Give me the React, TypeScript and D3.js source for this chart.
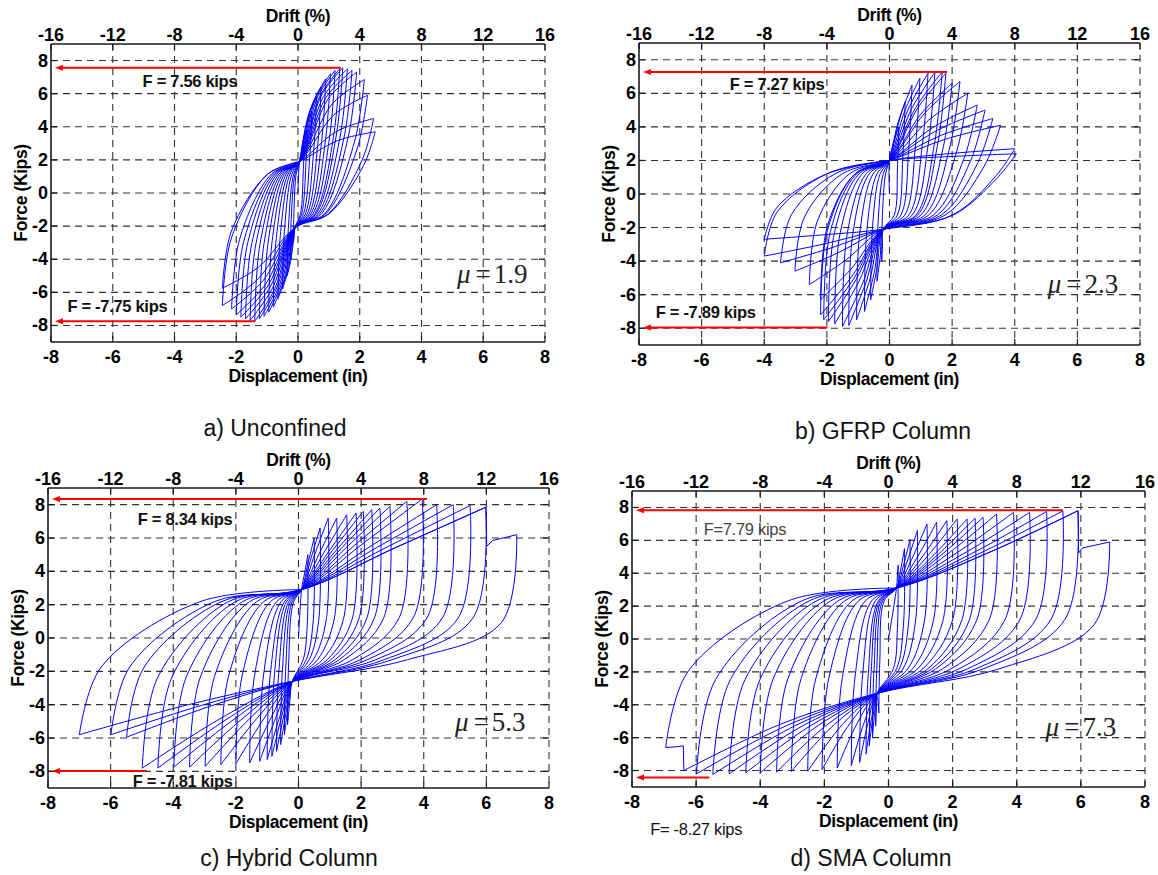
import React from "react";
import * as d3 from "d3";

type Pt = [number, number];

// axis ticks
const dispTicks = [-8, -6, -4, -2, 0, 2, 4, 6, 8];
const driftTicks = [-16, -12, -8, -4, 0, 4, 8, 12, 16];
const forceTicks = [-8, -6, -4, -2, 0, 2, 4, 6, 8];

// cycle peaks: displacement (in), force (kips)
// a) Unconfined
const uncPosDisp = [0.2, 0.3, 0.45, 0.6, 0.75, 0.9, 1.05, 1.2, 1.35, 1.45, 1.6, 1.75, 1.9, 2.15, 2.25, 2.45, 2.5];
const uncPosForce = [2.8, 3.8, 4.9, 5.8, 6.4, 6.9, 7.2, 7.4, 7.5, 7.56, 7.5, 7.4, 7.3, 6.85, 5.9, 4.5, 3.7];
const uncNegDisp = [-0.15, -0.25, -0.35, -0.5, -0.65, -0.8, -0.95, -1.1, -1.25, -1.4, -1.55, -1.7, -1.85, -2.0, -2.15, -2.45, -2.45];
const uncNegForce = [-3.0, -4.0, -5.0, -5.8, -6.4, -6.9, -7.2, -7.45, -7.6, -7.75, -7.7, -7.6, -7.5, -7.35, -7.0, -6.8, -5.75];

// b) GFRP column
const gfrpPosDisp = [0.3, 0.5, 0.72, 0.97, 1.23, 1.45, 1.68, 1.8, 2.0, 2.25, 2.5, 2.8, 3.05, 3.3, 3.55, 4.0, 4.05];
const gfrpPosForce = [4.0, 5.5, 6.5, 6.9, 7.2, 7.25, 7.27, 7.2, 6.6, 6.7, 6.0, 5.3, 5.0, 4.5, 4.1, 2.7, 2.4];
const gfrpNegDisp = [-0.25, -0.4, -0.6, -0.8, -1.05, -1.3, -1.5, -1.75, -1.95, -2.1, -2.2, -2.2, -2.56, -3.02, -3.48, -4.0, -4.0];
const gfrpNegForce = [-4.0, -5.2, -6.3, -7.0, -7.5, -7.84, -7.89, -7.74, -7.6, -7.5, -7.2, -6.3, -5.4, -4.6, -4.1, -3.7, -2.7];

// c) Hybrid column
const hybPosDisp = [0.3, 0.5, 0.69, 0.95, 1.22, 1.54, 1.84, 2.07, 2.34, 2.6, 2.92, 3.46, 3.95, 4.41, 4.94, 5.48, 5.98, 6.97];
const hybPosForce = [5.0, 6.0, 6.6, 7.2, 7.2, 7.4, 7.5, 7.6, 7.7, 7.8, 7.9, 8.2, 8.34, 8.0, 8.0, 7.95, 7.85, 6.2];
const hybNegDisp = [-0.35, -0.45, -0.57, -0.7, -0.85, -1.0, -1.24, -1.56, -2.0, -2.48, -2.98, -3.48, -3.98, -4.49, -4.99, -5.49, -5.99, -7.0];
const hybNegForce = [-5.2, -5.8, -6.4, -6.8, -7.1, -7.3, -7.4, -7.5, -7.55, -7.6, -7.7, -7.75, -7.75, -7.8, -7.81, -5.95, -5.8, -5.8];
const hybBreakPos: Pt[] = [[5.99, 7.85], [6.01, 5.5], [6.2, 5.85]];

// d) SMA column
const smaPosDisp = [0.3, 0.5, 0.67, 0.9, 1.2, 1.5, 1.82, 2.14, 2.45, 2.7, 2.95, 3.37, 3.9, 4.4, 4.93, 5.44, 5.91, 6.9];
const smaPosForce = [4.5, 5.5, 6.05, 6.6, 7.0, 7.1, 7.2, 7.3, 7.3, 7.35, 7.4, 7.6, 7.7, 7.7, 7.75, 7.79, 7.8, 5.9];
const smaNegDisp = [-0.3, -0.4, -0.5, -0.6, -0.7, -0.9, -1.16, -1.6, -2.07, -2.52, -3.03, -3.49, -4.0, -4.45, -4.97, -5.48, -5.99, -6.95];
const smaNegForce = [-4.5, -5.3, -6.0, -6.5, -7.0, -7.5, -7.7, -7.85, -7.94, -8.04, -8.05, -8.1, -8.14, -8.14, -8.2, -8.24, -8.2, -6.6];
const smaBreakPos: Pt[] = [[5.91, 7.8], [5.93, 5.23], [6.04, 5.53]];
const smaBreakNeg: Pt[] = [[-6.38, -8.0], [-6.4, -6.5], [-6.6, -6.55]];

// labelled peak forces and arrow ends
const peakLabels = ["F = 7.56 kips", "F = 7.27 kips", "F = 8.34 kips", "F=7.79 kips"];
const peakArrowForce = [7.56, 7.27, 8.34, 7.83];
const peakArrowDisp = [1.39, 1.84, 4.1, 5.44];
const troughLabels = ["F = -7.75 kips", "F = -7.89 kips", "F = -7.81 kips", "F= -8.27 kips"];
const troughArrowForce = [-7.75, -7.95, -7.98, -8.42];
const troughArrowDisp = [-1.39, -1.98, -4.84, -5.59];
const ductility = ["1.9", "2.3", "5.3", "7.3"];
const captions = ["a) Unconfined", "b) GFRP Column", "c) Hybrid Column", "d) SMA Column"];

type Shape = {
  xu: number; pu: number; xl: number; pl: number;
  LP: number; LN: number;
  kP: number; u2P: number; u3P: number; u4P: number;
  kN: number; u2N: number; u3N: number; u4N: number;
};

type Cycles = {
  posD: number[]; posF: number[]; negD: number[]; negF: number[];
  brkPos?: Pt[]; brkNeg?: Pt[];
};

const FONT = "'Liberation Sans', Arial, Helvetica, sans-serif";
const SERIF = "'Liberation Serif', 'Times New Roman', serif";
const BLUE = "#0000ff";
const RED = "#ff0000";
const INK = "#1a1a1a";

const panels = [
  {
    box: { x: 51, y: 44, w: 494, h: 298 },
    cycles: { posD: uncPosDisp, posF: uncPosForce, negD: uncNegDisp, negF: uncNegForce },
    shape: { xu: 0.05, pu: 1.9, xl: -0.1, pl: -2.1, LP: 0.7, LN: 0.65, kP: 0.15, u2P: 0.45, u3P: 0.4, u4P: 0.6, kN: 0.12, u2N: 0.4, u3N: 0.4, u4N: 0.6 },
    peakText: [-3.5, 6.42], troughText: [-5.85, -7.16], troughBold: true, peakBold: true,
    mu: [5.15, -5.45], cap: [275, 436],
  },
  {
    box: { x: 639, y: 43, w: 501, h: 302 },
    cycles: { posD: gfrpPosDisp, posF: gfrpPosForce, negD: gfrpNegDisp, negF: gfrpNegForce },
    shape: { xu: 0.0, pu: 2.0, xl: -0.2, pl: -2.1, LP: 0.6, LN: 0.55, kP: 0.15, u2P: 0.4, u3P: 0.5, u4P: 0.6, kN: 0.1, u2N: 0.3, u3N: 0.5, u4N: 0.6 },
    peakText: [-3.59, 6.17], troughText: [-5.87, -7.4], troughBold: true, peakBold: true,
    mu: [5.05, -5.9], cap: [883, 439],
  },
  {
    box: { x: 48, y: 488, w: 501, h: 300 },
    cycles: { posD: hybPosDisp, posF: hybPosForce, negD: hybNegDisp, negF: hybNegForce, brkPos: hybBreakPos },
    shape: { xu: 0.1, pu: 2.9, xl: -0.2, pl: -2.6, LP: 0.5, LN: 0.45, kP: 0.07, u2P: 0.15, u3P: 0.5, u4P: 0.5, kN: 0.1, u2N: 0.3, u3N: 0.45, u4N: 0.75 },
    peakText: [-3.62, 6.78], troughText: [-3.7, -8.92], troughBold: true, peakBold: true,
    mu: [5.0, -5.6], cap: [289, 866],
  },
  {
    box: { x: 632, y: 491, w: 513, h: 296 },
    cycles: { posD: smaPosDisp, posF: smaPosForce, negD: smaNegDisp, negF: smaNegForce, brkPos: smaBreakPos, brkNeg: smaBreakNeg },
    shape: { xu: 0.25, pu: 3.1, xl: -0.35, pl: -3.3, LP: 0.45, LN: 0.4, kP: 0.07, u2P: 0.15, u3P: 0.5, u4P: 0.55, kN: 0.1, u2N: 0.3, u3N: 0.45, u4N: 0.75 },
    peakText: [-4.48, 6.32], troughText: [-6.0, -11.9], troughBold: false, peakBold: false,
    mu: [4.9, -5.9], cap: [871, 866],
  },
];

// builds the loading / unloading branches, cycle after cycle
function buildBranches(c: Cycles, s: Shape) {
  const out: { pts: Pt[]; smooth: boolean }[] = [];
  let prev: Pt = [0, 0];
  const n = c.posD.length;
  for (let i = 0; i < n; i++) {
    const last = i === n - 1;
    const peakP: Pt = [c.posD[i], c.posF[i]];
    const peakN: Pt = [c.negD[i], c.negF[i]];
    const bp = last && c.brkPos ? c.brkPos : null;
    const bn = last && c.brkNeg ? c.brkNeg : null;

    const a: Pt[] = [prev];
    if (i > 0) a.push([prev[0] * (1 - s.kN), prev[1] * s.u2N], [prev[0] * s.u3N, s.pu * s.u4N]);
    a.push([s.xu, s.pu]);
    const tp = bp ? bp[0] : peakP;
    a.push([s.xu + 0.5 * (tp[0] - s.xu), s.pu + s.LP * (tp[1] - s.pu)], tp);
    out.push({ pts: a, smooth: true });
    if (bp) out.push({ pts: [...bp, peakP], smooth: false });

    const b: Pt[] = [peakP, [peakP[0] * (1 - s.kP), peakP[1] * s.u2P], [peakP[0] * s.u3P, s.pl * s.u4P], [s.xl, s.pl]];
    const tn = bn ? bn[0] : peakN;
    b.push([s.xl + 0.5 * (tn[0] - s.xl), s.pl + s.LN * (tn[1] - s.pl)], tn);
    out.push({ pts: b, smooth: true });
    if (bn) out.push({ pts: [...bn, peakN], smooth: false });
    prev = peakN;
  }
  out.push({ pts: [prev, [prev[0] * (1 - s.kN), prev[1] * s.u2N], [prev[0] * s.u3N, s.pu * s.u4N], [s.xu, s.pu]], smooth: true });
  return out;
}

function Panel({ idx }: { idx: number }) {
  const p = panels[idx];
  const { x: bx, y: by, w, h } = p.box;
  const x = d3.scaleLinear().domain([-8, 8]).range([bx, bx + w]);
  const drift = d3.scaleLinear().domain([-16, 16]).range([bx, bx + w]);
  const y = d3.scaleLinear().domain([-9, 9]).range([by + h, by]);
  const smooth = d3.line<Pt>().x((d) => x(d[0])).y((d) => y(d[1])).curve(d3.curveCatmullRom.alpha(0.5));
  const straight = d3.line<Pt>().x((d) => x(d[0])).y((d) => y(d[1]));
  const branches = buildBranches(p.cycles, p.shape);
  const pathD = branches.map((b) => (b.smooth ? smooth(b.pts) : straight(b.pts))).join("");
  const cx = bx + w / 2;
  const clipId = `clip-${idx}`;
  const tickLen = 6;

  const arrow = (force: number, from: number) => {
    const yy = y(force);
    const tip = bx + 4;
    return (
      <g>
        <line x1={x(from)} x2={tip + 6} y1={yy} y2={yy} stroke={RED} strokeWidth={2} />
        <path d={`M${tip},${yy}L${tip + 8},${yy - 3}L${tip + 8},${yy + 3}Z`} fill={RED} />
      </g>
    );
  };

  return (
    <g>
      <defs>
        <clipPath id={clipId}>
          <rect x={bx} y={by} width={w} height={h} />
        </clipPath>
      </defs>
      {/* grid */}
      {dispTicks.slice(1).map((t) => (
        <line key={`gv${t}`} x1={x(t)} x2={x(t)} y1={by} y2={by + h} stroke="#333" strokeWidth={1.1} strokeDasharray="7,5" />
      ))}
      {forceTicks.map((t) => (
        <line key={`gh${t}`} x1={bx} x2={bx + w} y1={y(t)} y2={y(t)} stroke="#333" strokeWidth={1.1} strokeDasharray="7,5" />
      ))}
      {/* tick marks */}
      {dispTicks.map((t) => (
        <g key={`tx${t}`}>
          <line x1={x(t)} x2={x(t)} y1={by + h} y2={by + h - tickLen} stroke={INK} strokeWidth={1.2} />
          <line x1={x(t)} x2={x(t)} y1={by} y2={by + tickLen} stroke={INK} strokeWidth={1.2} />
        </g>
      ))}
      {forceTicks.map((t) => (
        <g key={`ty${t}`}>
          <line x1={bx} x2={bx + tickLen} y1={y(t)} y2={y(t)} stroke={INK} strokeWidth={1.2} />
          <line x1={bx + w} x2={bx + w - tickLen} y1={y(t)} y2={y(t)} stroke={INK} strokeWidth={1.2} />
        </g>
      ))}
      {/* hysteresis */}
      <path d={pathD} fill="none" stroke={BLUE} strokeWidth={1} clipPath={`url(#${clipId})`} />
      {/* axes */}
      <line x1={bx} x2={bx + w} y1={by} y2={by} stroke={INK} strokeWidth={1.6} />
      <line x1={bx} x2={bx + w} y1={by + h} y2={by + h} stroke={INK} strokeWidth={1.6} />
      <line x1={bx} x2={bx} y1={by} y2={by + h} stroke={INK} strokeWidth={1.6} />
      {/* tick labels */}
      <g fontFamily={FONT} fontWeight="bold" fontSize={18} fill="#000">
        {driftTicks.map((t) => (
          <text key={`dl${t}`} x={drift(t)} y={by - 3} textAnchor="middle">{t}</text>
        ))}
        {dispTicks.map((t) => (
          <text key={`xl${t}`} x={x(t)} y={by + h + 21} textAnchor="middle">{t}</text>
        ))}
        {forceTicks.map((t) => (
          <text key={`yl${t}`} x={bx - 3} y={y(t) + 6} textAnchor="end">{t}</text>
        ))}
      </g>
      {/* axis titles */}
      <g fontFamily={FONT} fontWeight="bold" fontSize={17.5} fill="#000" letterSpacing={-0.4}>
        <text x={cx} y={by - 22} textAnchor="middle">Drift (%)</text>
        <text x={cx} y={by + h + 40} textAnchor="middle">Displacement (in)</text>
        <text transform={`translate(${bx - 24},${by + h / 2}) rotate(-90)`} textAnchor="middle">Force (Kips)</text>
      </g>
      {/* peak annotations */}
      {arrow(peakArrowForce[idx], peakArrowDisp[idx])}
      {arrow(troughArrowForce[idx], troughArrowDisp[idx])}
      <text x={x(p.peakText[0])} y={y(p.peakText[1])} textAnchor="middle" fontFamily={FONT} fontSize={16.5}
        fontWeight={p.peakBold ? "bold" : "normal"} fill={p.peakBold ? "#111" : "#444"} letterSpacing={-0.3}>
        {peakLabels[idx]}
      </text>
      <text x={x(p.troughText[0])} y={y(p.troughText[1])} textAnchor="middle" fontFamily={FONT} fontSize={16.5}
        fontWeight={p.troughBold ? "bold" : "normal"} fill="#111" letterSpacing={-0.3}>
        {troughLabels[idx]}
      </text>
      {/* ductility */}
      <text x={x(p.mu[0])} y={y(p.mu[1])} fontFamily={SERIF} fontSize={27} fill="#222">
        <tspan fontStyle="italic">μ</tspan>
        <tspan dx={5}>=</tspan>
        <tspan dx={3}>{ductility[idx]}</tspan>
      </text>
      {/* caption */}
      <text x={p.cap[0]} y={p.cap[1]} textAnchor="middle" fontFamily={FONT} fontSize={23} fill="#111">
        {captions[idx]}
      </text>
    </g>
  );
}

export default function App() {
  return (
    <svg width={1158} height={875} style={{ position: "absolute", left: 0, top: 0, background: "#fff" }}>
      <rect width={1158} height={875} fill="#fff" />
      {panels.map((_, i) => (
        <Panel key={i} idx={i} />
      ))}
    </svg>
  );
}
